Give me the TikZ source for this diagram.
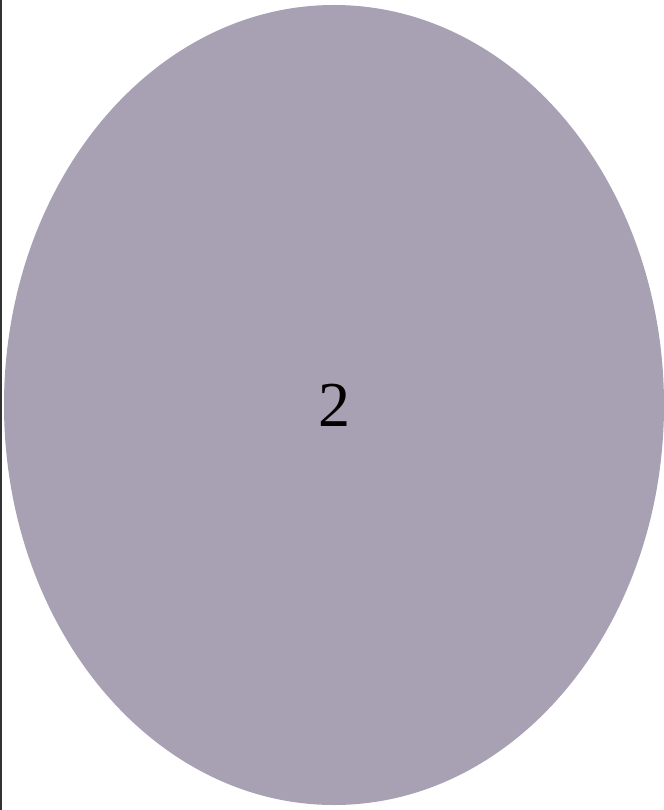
\documentclass[tikz,border=0pt]{standalone}
\usepackage{fontspec}
\setmainfont{Liberation Serif}
\usetikzlibrary{shapes.geometric}
\definecolor{ellfill}{HTML}{A8A0B3}
\definecolor{edgeline}{HTML}{333333}
\begin{document}
\begin{tikzpicture}[x=1pt,y=-1pt,
  blob/.style={ellipse,fill=ellfill,draw=none,minimum width=660pt,minimum height=800pt,inner sep=0pt,
    font=\fontsize{64}{70}\selectfont}]
\useasboundingbox (0,0) rectangle (663,810);
\fill[white] (0,0) rectangle (663,810);
\node[blob] (e) at (334,405) {2};
\draw[edgeline,line width=2pt] (1,0) -- (1,810);
\end{tikzpicture}
\end{document}
